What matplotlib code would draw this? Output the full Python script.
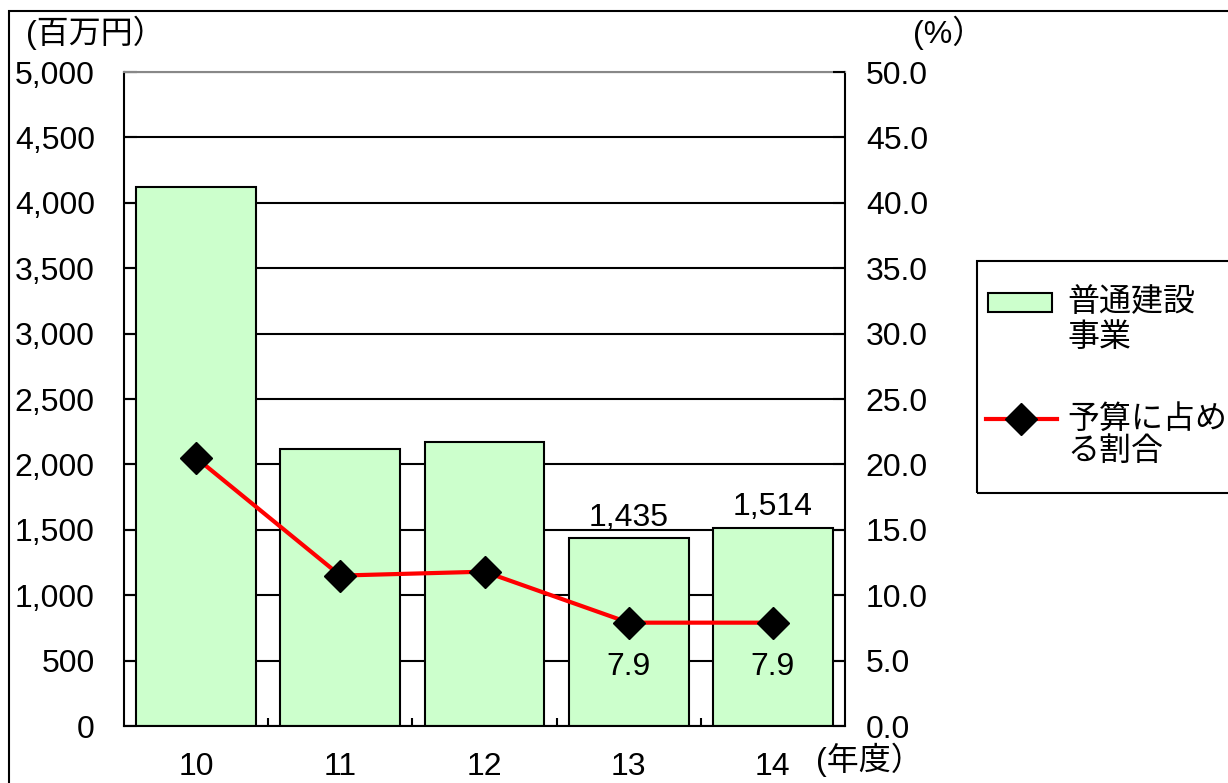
import matplotlib
matplotlib.use("Agg")
import matplotlib.pyplot as plt
from matplotlib.lines import Line2D
from matplotlib.patches import Rectangle
from matplotlib.ticker import FuncFormatter, MultipleLocator


# ===================================================
# DATA
# ===================================================

years = ["10", "11", "12", "13", "14"]
construction = [4120, 2115, 2175, 1435, 1514]   # 百万円
share = [20.5, 11.5, 11.8, 7.9, 7.9]            # %
bar_labels = {3: "1,435", 4: "1,514"}
share_labels = {3: "7.9", 4: "7.9"}

bar_name = ["普通建設", "事業"]
line_name = ["予算に占め", "る割合"]


# ===================================================
# STYLE
# ===================================================

plt.rcParams["font.family"] = ["Liberation Sans", "Noto Sans CJK JP", "DejaVu Sans"]
FS = 23
FS_CJK = 23
BAR_COLOR = "#CCFFCC"

W, H = 1228, 783
fig = plt.figure(figsize=(W / 100, H / 100), dpi=100)


def fx(px):
    return px / W


def fy(py):
    return 1 - py / H


# outer frame (runs off the right / bottom edge)
fig.patches.append(Rectangle((fx(9), -0.05), 1.2, fy(11) + 0.05,
                             transform=fig.transFigure, fill=False,
                             edgecolor="black", linewidth=1.5))

ax = fig.add_axes([fx(124), fy(726), fx(845 - 124), (726 - 72) / H])
ax2 = ax.twinx()

x = list(range(len(years)))

# ===================================================
# BARS
# ===================================================

ax.set_axisbelow(True)
ax.bar(x, construction, width=0.83, color=BAR_COLOR, edgecolor="black",
       linewidth=1.5, zorder=2)
ax.set_xlim(-0.5, len(years) - 0.5)
ax.set_ylim(0, 5000)
ax.yaxis.set_major_locator(MultipleLocator(500))
ax.yaxis.set_major_formatter(FuncFormatter(lambda v, p: f"{int(v):,}"))
ax.grid(axis="y", color="black", linewidth=1.5, zorder=0)

for i, txt in bar_labels.items():
    ax.annotate(txt, (i, construction[i]), xytext=(0, 4), textcoords="offset points",
                ha="center", va="bottom", fontsize=FS)

ax.set_xticks(x)
ax.set_xticklabels(years, fontsize=FS)
ax.set_xticks([i + 0.5 for i in x[:-1]], minor=True)
ax.tick_params(axis="x", which="major", length=0, pad=19)
ax.tick_params(axis="x", which="minor", direction="in", length=6, width=1.5)
ax.tick_params(axis="y", direction="in", length=9, width=1.5, labelsize=FS, pad=21)

for s in ["left", "bottom", "right"]:
    ax.spines[s].set_linewidth(1.5)
ax.spines["top"].set_color("#888888")
ax.spines["top"].set_linewidth(1.5)

# ===================================================
# LINE
# ===================================================

LINE_STYLE = dict(color="red", linewidth=3, marker="D", markersize=16,
                  markerfacecolor="black", markeredgecolor="black")

ax2.plot(x, share, zorder=5, **LINE_STYLE)
ax2.set_ylim(0, 50)
ax2.yaxis.set_major_locator(MultipleLocator(5))
ax2.yaxis.set_major_formatter(FuncFormatter(lambda v, p: f"{v:.1f}"))
ax2.tick_params(axis="y", direction="in", length=9, width=1.5, labelsize=FS, pad=15)
for s in ax2.spines.values():
    s.set_visible(False)

for i, txt in share_labels.items():
    ax2.annotate(txt, (i, share[i]), xytext=(0, -21), textcoords="offset points",
                 ha="center", va="top", fontsize=FS)

# ===================================================
# AXIS TITLES
# ===================================================

fig.text(fx(26), fy(33), "(百万円）", fontsize=FS_CJK, va="center", ha="left")
fig.text(fx(913), fy(33), "(%）", fontsize=FS_CJK, va="center", ha="left")
fig.text(fx(816), fy(760), "(年度）", fontsize=FS_CJK, va="center", ha="left")

# ===================================================
# LEGEND (drawn by hand to match the box)
# ===================================================

fig.patches.append(Rectangle((fx(977), fy(493)), 1.0, (493 - 261) / H,
                             transform=fig.transFigure, fill=False,
                             edgecolor="black", linewidth=1.5))
fig.patches.append(Rectangle((fx(988), fy(312)), fx(1052 - 988), (312 - 293) / H,
                             transform=fig.transFigure, facecolor=BAR_COLOR,
                             edgecolor="black", linewidth=1.5))
fig.lines.append(Line2D([fx(986), fx(1057)], [fy(419), fy(419)],
                        transform=fig.transFigure, color="red", linewidth=3))
fig.lines.append(Line2D([fx(1021)], [fy(419)], transform=fig.transFigure,
                        linestyle="none", marker="D", markersize=16,
                        markerfacecolor="black", markeredgecolor="black"))

for k, line in enumerate(bar_name):
    fig.text(fx(1067), fy(303 + 35 * k), line, fontsize=FS_CJK, va="center", ha="left")
for k, line in enumerate(line_name):
    fig.text(fx(1067), fy(420 + 32 * k), line, fontsize=FS_CJK, va="center", ha="left")

fig.savefig("out.png", dpi=100)
